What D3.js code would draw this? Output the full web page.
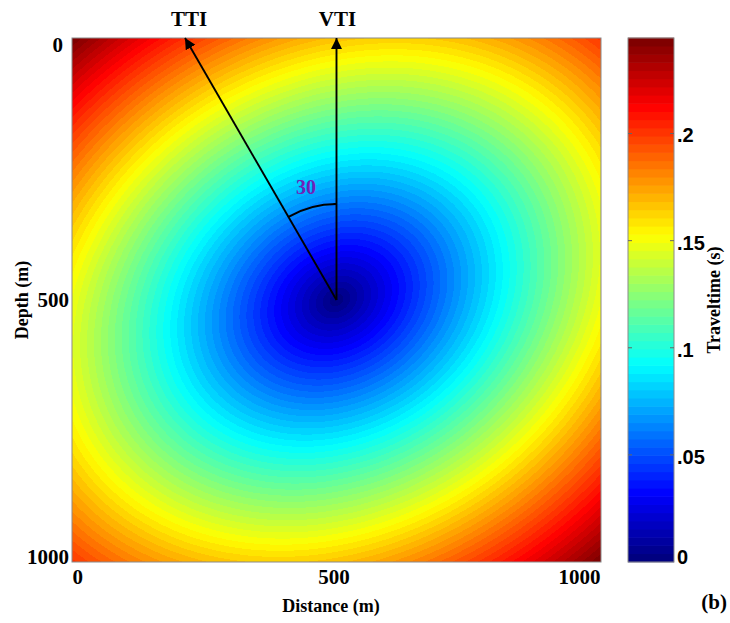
<!DOCTYPE html>
<html>
<head>
<meta charset="utf-8">
<script src="https://cdn.jsdelivr.net/npm/d3@7"></script>
<style>
  html, body { margin: 0; padding: 0; background: #fff; }
  svg { display: block; }
</style>
</head>
<body>
<script>
// ---- data ----
const xTicks = [0, 500, 1000];            // Distance (m)
const yTicks = [0, 500, 1000];            // Depth (m)
const colorTicks = [0, 0.05, 0.1, 0.15, 0.2];
const colorTickLabels = ["0", ".05", ".1", ".15", ".2"];
const colorDomain = [0, 0.2446];          // Traveltime (s) range of colour bar
const sourcePos = [500, 500];             // source position [x, z] in m
const axisVelocity = [2850];              // m/s along the tilted symmetry axis
const perpVelocity = [3600];              // m/s perpendicular to the axis
const tiltDeg = [30];                     // tilt of symmetry axis from vertical
const arrowAngles = [-30, 0];             // degrees from vertical (TTI, VTI)
const arrowLabels = ["TTI", "VTI"];
const arcLabel = ["30"];

const W = 730, H = 623;
const x = d3.scaleLinear().domain([0, 1000]).range([72, 601]);
const y = d3.scaleLinear().domain([0, 1000]).range([38, 562]);
const c = d3.scaleLinear().domain(colorDomain).range([562, 38]);

// MATLAB-like jet with 64 discrete colours
function jet(f) {
  const cl = v => Math.max(0, Math.min(1, v));
  const r = cl(1.5 - Math.abs(4 * f - 3));
  const g = cl(1.5 - Math.abs(4 * f - 2));
  const b = cl(1.5 - Math.abs(4 * f - 1));
  return [Math.round(r * 255), Math.round(g * 255), Math.round(b * 255)];
}
const nColors = 64;
const jetTable = d3.range(nColors).map(i => jet(i / (nColors - 1)));
const colorIndex = t => {
  const f = (t - colorDomain[0]) / (colorDomain[1] - colorDomain[0]);
  return Math.max(0, Math.min(nColors - 1, Math.floor(f * nColors)));
};

// traveltime in the tilted elliptical medium
const th = tiltDeg[0] * Math.PI / 180;
function traveltime(xm, zm) {
  const dx = xm - sourcePos[0], dz = zm - sourcePos[1];
  const ax = -Math.sin(th), az = -Math.cos(th);
  const along = dx * ax + dz * az;
  const perp = dx * (-az) + dz * ax;
  return Math.sqrt((along / axisVelocity[0]) ** 2 + (perp / perpVelocity[0]) ** 2);
}

const svg = d3.select("body").append("svg").attr("width", W).attr("height", H)
  .style("font-family", "'Liberation Serif', 'Times New Roman', serif");
svg.append("rect").attr("width", W).attr("height", H).attr("fill", "#fff");

// ---- heat map image ----
const pw = Math.round(x.range()[1] - x.range()[0]);
const ph = Math.round(y.range()[1] - y.range()[0]);
const canvas = document.createElement("canvas");
canvas.width = pw; canvas.height = ph;
const ctx = canvas.getContext("2d");
const img = ctx.createImageData(pw, ph);
for (let j = 0; j < ph; j++) {
  const zm = y.invert(y.range()[0] + j + 0.5);
  for (let i = 0; i < pw; i++) {
    const xm = x.invert(x.range()[0] + i + 0.5);
    const col = jetTable[colorIndex(traveltime(xm, zm))];
    const k = (j * pw + i) * 4;
    img.data[k] = col[0]; img.data[k + 1] = col[1]; img.data[k + 2] = col[2]; img.data[k + 3] = 255;
  }
}
ctx.putImageData(img, 0, 0);
svg.append("image")
  .attr("x", x.range()[0]).attr("y", y.range()[0])
  .attr("width", pw).attr("height", ph)
  .attr("preserveAspectRatio", "none")
  .attr("href", canvas.toDataURL());
svg.append("rect")
  .attr("x", x.range()[0]).attr("y", y.range()[0]).attr("width", pw).attr("height", ph)
  .attr("fill", "none").attr("stroke", "#8a8a8a").attr("stroke-width", 1);

// ---- axes ----
const yAxis = svg.append("g").attr("transform", `translate(${x.range()[0]},0)`)
  .call(d3.axisLeft(y).tickValues(yTicks).tickSize(0).tickPadding(3).tickFormat(d3.format("d")));
yAxis.select(".domain").remove();
yAxis.selectAll("text")
  .style("font-family", "'Liberation Serif', serif").style("font-weight", "bold").style("font-size", "21px")
  .attr("fill", "#000")
  .attr("dx", d => d === 0 ? "-6" : 0)
  .attr("dy", d => d === 0 ? "0.62em" : d === 1000 ? "0.05em" : "0.3em");

const xAxis = svg.append("g").attr("transform", `translate(0,${y.range()[1]})`)
  .call(d3.axisBottom(x).tickValues(xTicks).tickSize(0).tickPadding(7).tickFormat(d3.format("d")));
xAxis.select(".domain").remove();
xAxis.selectAll("text")
  .style("font-family", "'Liberation Serif', serif").style("font-weight", "bold").style("font-size", "21px")
  .attr("fill", "#000")
  .attr("text-anchor", d => d === 0 ? "start" : d === 1000 ? "end" : "middle")
  .attr("dx", d => d === 0 ? 0 : d === 1000 ? -1 : -3);

svg.append("text").attr("x", 331).attr("y", 612).attr("text-anchor", "middle")
  .style("font-weight", "bold").style("font-size", "18px").text("Distance (m)");
svg.append("text").attr("transform", "translate(28,300) rotate(-90)").attr("text-anchor", "middle")
  .style("font-weight", "bold").style("font-size", "18px").text("Depth (m)");
svg.append("text").attr("x", 727).attr("y", 609).attr("text-anchor", "end")
  .style("font-weight", "bold").style("font-size", "21px").text("(b)");

// ---- arrows ----
const defs = svg.append("defs");
defs.append("marker").attr("id", "arrowhead").attr("viewBox", "0 0 10 10")
  .attr("refX", 10).attr("refY", 5).attr("markerWidth", 11).attr("markerHeight", 11)
  .attr("markerUnits", "userSpaceOnUse").attr("orient", "auto")
  .append("path").attr("d", "M0,0 L10,5 L0,10 Z").attr("fill", "#000");

const sx = x(sourcePos[0]), sy = y(sourcePos[1]);
const reach = sourcePos[1] - 4;
arrowAngles.forEach((a, i) => {
  const r = a * Math.PI / 180;
  const tipX = x(sourcePos[0] + Math.tan(r) * reach);
  svg.append("line").attr("x1", sx).attr("y1", sy).attr("x2", tipX).attr("y2", y(0))
    .attr("stroke", "#000").attr("stroke-width", 1.9).attr("marker-end", "url(#arrowhead)");
  svg.append("text").attr("x", tipX + (i === 0 ? 4 : 1)).attr("y", 26).attr("text-anchor", "middle")
    .style("font-weight", "bold").style("font-size", "21px").text(arrowLabels[i]);
});

// angle arc
const arcR = 96;
const arcPath = d3.arc().innerRadius(arcR).outerRadius(arcR)
  .startAngle(arrowAngles[0] * Math.PI / 180).endAngle(arrowAngles[1] * Math.PI / 180);
svg.append("path").attr("transform", `translate(${sx},${sy})`).attr("d", arcPath())
  .attr("fill", "none").attr("stroke", "#000").attr("stroke-width", 1.9);
svg.append("text").attr("x", 306).attr("y", 194).attr("text-anchor", "middle")
  .attr("fill", "#7022b8").style("font-weight", "bold").style("font-size", "20px").text(arcLabel[0]);

// ---- colour bar ----
const cbX = 628, cbW = 46;
const cb = svg.append("g");
const steps = d3.range(nColors);
const stepH = (c.range()[0] - c.range()[1]) / nColors;
cb.selectAll("rect.step").data(steps).join("rect").attr("class", "step")
  .attr("x", cbX).attr("width", cbW)
  .attr("y", i => c.range()[0] - (i + 1) * stepH - 0.3)
  .attr("height", stepH + 0.6)
  .attr("fill", i => d3.rgb(...jetTable[i]).toString());
cb.append("rect").attr("x", cbX).attr("y", c.range()[1]).attr("width", cbW)
  .attr("height", c.range()[0] - c.range()[1]).attr("fill", "none")
  .attr("stroke", "#8a8a8a").attr("stroke-width", 1);
colorTicks.slice(1).forEach(t => {
  cb.append("line").attr("x1", cbX).attr("x2", cbX + 4).attr("y1", c(t)).attr("y2", c(t))
    .attr("stroke", "#666").attr("stroke-width", 1);
  cb.append("line").attr("x1", cbX + cbW - 4).attr("x2", cbX + cbW).attr("y1", c(t)).attr("y2", c(t))
    .attr("stroke", "#666").attr("stroke-width", 1);
});
const cAxis = svg.append("g").attr("transform", `translate(${cbX + cbW},0)`)
  .call(d3.axisRight(c).tickValues(colorTicks).tickSize(0).tickPadding(3)
    .tickFormat((d, i) => colorTickLabels[i]));
cAxis.select(".domain").remove();
cAxis.selectAll("text")
  .style("font-family", "'Liberation Sans', Arial, sans-serif").style("font-weight", "bold")
  .style("font-size", "20px").attr("fill", "#000")
  .attr("dy", d => d === 0 ? "0.05em" : "0.42em");

svg.append("text").attr("transform", "translate(720,300) rotate(-90)").attr("text-anchor", "middle")
  .style("font-weight", "bold").style("font-size", "18px").text("Traveltime (s)");
</script>
</body>
</html>
